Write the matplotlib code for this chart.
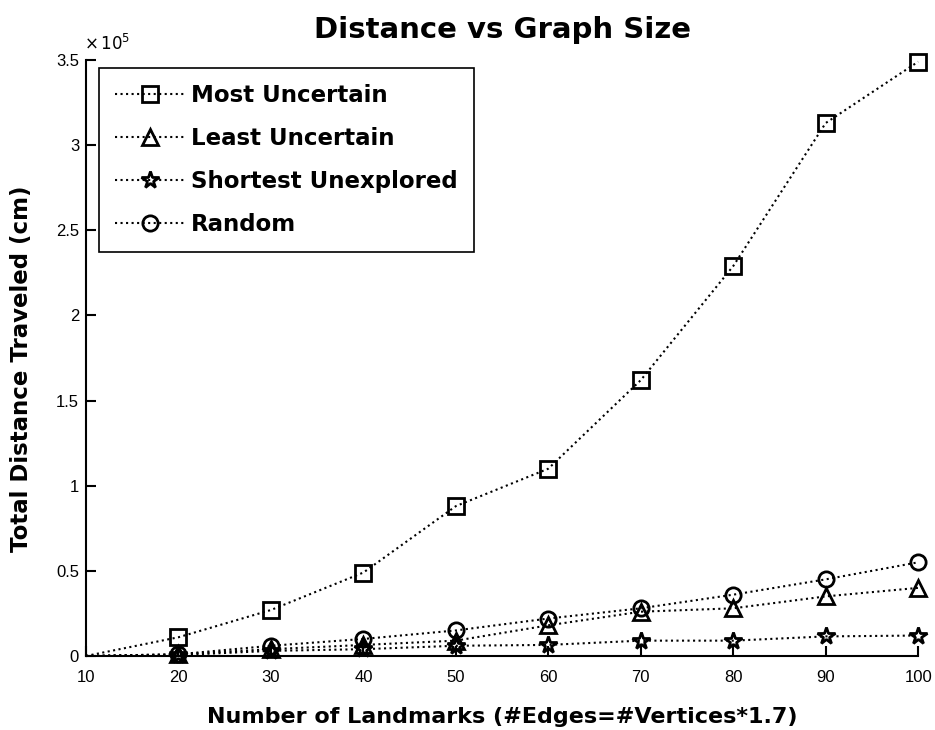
import matplotlib
matplotlib.use("Agg")
import matplotlib.pyplot as plt
from matplotlib.ticker import FuncFormatter

plt.rcParams['font.family'] = ['Liberation Sans', 'DejaVu Sans']

landmarks = [10, 20, 30, 40, 50, 60, 70, 80, 90, 100]
most_uncertain = [0, 11000, 27000, 49000, 88000, 110000, 162000, 229000, 313000, 349000]
least_uncertain = [0, 1000, 4000, 6500, 9000, 18000, 26000, 28000, 35000, 40000]
shortest_unexplored = [0, 500, 3000, 4000, 6000, 6500, 9000, 9000, 11500, 12000]
random_choice = [0, 1000, 6000, 10000, 15000, 22000, 28000, 36000, 45000, 55000]

series = [
    ("Most Uncertain", most_uncertain, "s"),
    ("Least Uncertain", least_uncertain, "^"),
    ("Shortest Unexplored", shortest_unexplored, "*"),
    ("Random", random_choice, "o"),
]

fig = plt.figure(figsize=(9.35, 7.3), dpi=100)
ax = fig.add_axes([0.092, 0.1014, 0.89, 0.8164])

for label, vals, m in series:
    ax.plot(landmarks, vals, linestyle=":", color="black", linewidth=1.5,
            marker=m, markersize=11 if m != "*" else 13, markerfacecolor="none",
            markeredgecolor="black", markeredgewidth=2, markevery=list(range(1, len(vals))),
            clip_on=False, label=label)

ax.set_xlim(10, 100)
ax.set_ylim(0, 350000)
ax.set_xticks(range(10, 101, 10))
ax.set_yticks([0, 50000, 100000, 150000, 200000, 250000, 300000, 350000])
ax.yaxis.set_major_formatter(FuncFormatter(lambda v, p: "%g" % (v / 1e5)))
ax.text(-0.002, 1.012, r"$\times\,10^{5}$", transform=ax.transAxes, fontsize=12,
        ha="left", va="bottom")

ax.spines["top"].set_visible(False)
ax.spines["right"].set_visible(False)
ax.spines["left"].set_linewidth(1.5)
ax.spines["bottom"].set_linewidth(1.5)
ax.tick_params(direction="in", length=7, width=1.5, labelsize=12)
ax.tick_params(axis="x", pad=10)
ax.tick_params(axis="y", pad=5)

bold = {"family": "DejaVu Sans", "weight": "bold"}
ax.set_title("Distance vs Graph Size", fontsize=21, fontdict=bold, pad=16)
ax.set_xlabel("Number of Landmarks (#Edges=#Vertices*1.7)", fontsize=16, fontdict=bold, labelpad=16)
ax.set_ylabel("Total Distance Traveled (cm)", fontsize=16.5, fontdict=bold)
ax.yaxis.set_label_coords(-0.064, 0.482)

leg = ax.legend(loc="upper left", bbox_to_anchor=(0.016, 0.987), fancybox=False,
                edgecolor="black", framealpha=1,
                prop={"family": "DejaVu Sans", "weight": "bold", "size": 16.5},
                handlelength=3.0, handletextpad=0.3, borderpad=0.7, labelspacing=0.87,
                borderaxespad=0)
leg.get_frame().set_linewidth(1.2)

fig.savefig("out.png", dpi=100)
